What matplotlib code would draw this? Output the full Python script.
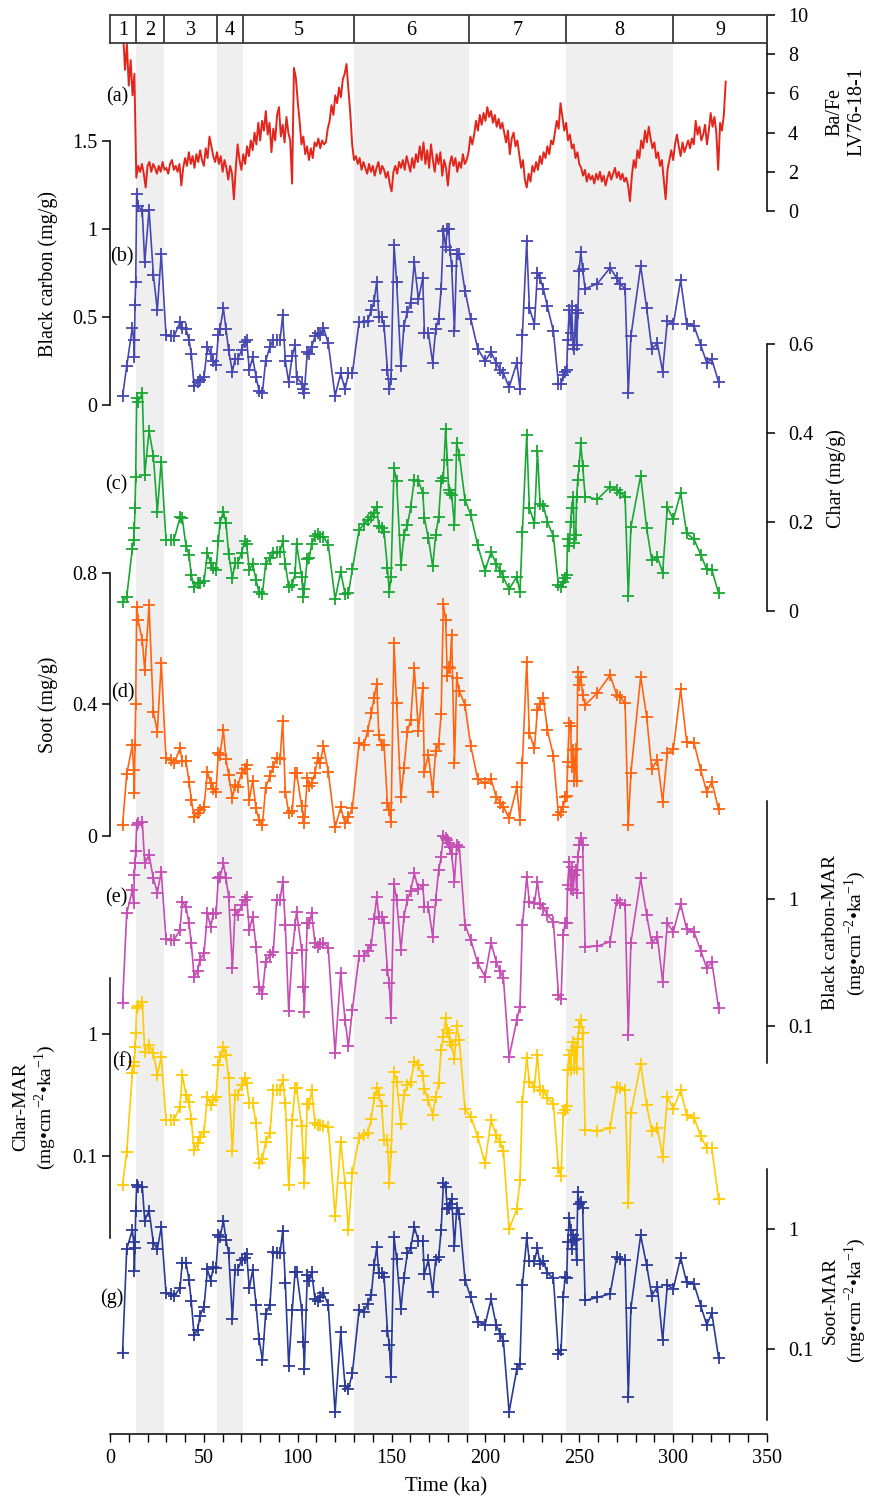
import numpy as np
import matplotlib.pyplot as plt
from matplotlib.ticker import FixedLocator, NullLocator

# === dati ===
ages = [6.7, 8.9, 11.9, 12.6, 13.0, 13.3, 13.7, 14.2, 14.9, 17.2,
        18.5, 20.8, 23.1, 25.2, 27.3, 29.8, 32.3, 34.1, 37.3, 38.5,
        40.5, 42.1, 43.3, 44.8, 46.7, 47.9, 50.1, 51.9, 53.6, 55.1,
        56.5, 57.7, 58.6, 60.4, 61.8, 63.2, 65.2, 66.6, 68.0, 70.1,
        71.7, 72.8, 74.2, 76.0, 77.8, 79.4, 81.2, 82.9, 85.2, 87.0,
        88.8, 90.6, 92.0, 93.4, 95.2, 97.1, 98.6, 99.4, 102.1, 103.0,
        103.5, 105.1, 106.2, 107.4, 109.2, 110.6, 111.9, 113.7, 116.3, 119.9,
        122.9, 125.2, 127.0, 129.1, 132.7, 135.3, 137.3, 139.2, 140.7, 142.1,
        143.2, 144.7, 146.0, 147.8, 148.8, 149.7, 151.3, 152.7, 155.0, 156.6,
        158.4, 160.2, 162.1, 164.3, 166.6, 167.5, 169.6, 171.9, 173.5, 175.1,
        176.4, 177.6, 178.8, 179.7, 180.4, 181.1, 182.0, 183.5, 184.7, 186.1,
        189.1, 192.2, 195.9, 199.8, 203.0, 205.7, 207.8, 209.6, 212.6, 216.7,
        218.4, 219.7, 222.0, 223.4, 226.1, 227.7, 229.1, 230.9, 233.0, 236.2,
        238.9, 240.3, 241.5, 242.4, 243.3, 243.8, 244.7, 245.4, 245.9, 246.8,
        247.3, 248.1, 248.6, 249.2, 249.9, 250.8, 251.8, 253.1, 259.7, 266.4,
        270.0, 271.7, 274.4, 276.1, 277.5, 282.7, 285.9, 288.6, 291.6, 294.4,
        296.9, 300.1, 304.0, 307.2, 311.1, 314.7, 317.9, 320.6, 324.2]

black_carbon = [0.05, 0.22, 0.44, 0.37, 0.27, 0.57, 0.70, 1.20, 1.13, 1.10,
                0.81, 1.11, 0.74, 0.54, 0.86, 0.40, 0.39, 0.39, 0.47, 0.44,
                0.43, 0.37, 0.29, 0.11, 0.13, 0.14, 0.16, 0.33, 0.29, 0.25,
                0.23, 0.40, 0.43, 0.55, 0.43, 0.31, 0.19, 0.26, 0.26, 0.31,
                0.36, 0.37, 0.20, 0.27, 0.16, 0.08, 0.07, 0.25, 0.33, 0.37,
                0.37, 0.37, 0.51, 0.25, 0.13, 0.28, 0.34, 0.16, 0.12, 0.09,
                0.07, 0.30, 0.29, 0.33, 0.39, 0.41, 0.40, 0.44, 0.35, 0.05,
                0.18, 0.09, 0.18, 0.18, 0.47, 0.47, 0.48, 0.54, 0.59, 0.70,
                0.50, 0.50, 0.45, 0.20, 0.09, 0.15, 0.91, 0.70, 0.22, 0.45,
                0.53, 0.58, 0.81, 0.60, 0.72, 0.41, 0.41, 0.24, 0.43, 0.49,
                0.66, 0.99, 0.90, 1.00, 1.00, 0.88, 0.79, 0.42, 0.86, 0.86,
                0.65, 0.49, 0.32, 0.25, 0.30, 0.24, 0.20, 0.18, 0.10, 0.24,
                0.09, 0.40, 0.93, 0.55, 0.46, 0.75, 0.72, 0.66, 0.56, 0.42,
                0.12, 0.12, 0.17, 0.19, 0.20, 0.37, 0.54, 0.41, 0.56, 0.34,
                0.32, 0.54, 0.34, 0.52, 0.76, 0.87, 0.77, 0.66, 0.69, 0.78,
                0.72, 0.69, 0.66, 0.07, 0.39, 0.79, 0.55, 0.32, 0.35, 0.19,
                0.48, 0.46, 0.71, 0.46, 0.45, 0.34, 0.24, 0.26, 0.13]

char = [0.020, 0.031, 0.14, 0.16, 0.186, 0.231, 0.302, 0.48, 0.47, 0.49,
        0.306, 0.405, 0.349, 0.223, 0.336, 0.16, 0.16, 0.16, 0.21, 0.208,
        0.145, 0.126, 0.08, 0.054, 0.062, 0.063, 0.066, 0.13, 0.107, 0.096,
        0.092, 0.156, 0.198, 0.223, 0.197, 0.128, 0.073, 0.107, 0.107, 0.131,
        0.156, 0.15, 0.092, 0.105, 0.069, 0.041, 0.038, 0.105, 0.118, 0.13,
        0.133, 0.133, 0.156, 0.105, 0.054, 0.058, 0.084, 0.15, 0.077, 0.031,
        0.05, 0.116, 0.118, 0.15, 0.168, 0.172, 0.167, 0.167, 0.148, 0.026,
        0.088, 0.038, 0.039, 0.093, 0.182, 0.195, 0.204, 0.212, 0.22, 0.233,
        0.19, 0.186, 0.178, 0.096, 0.043, 0.077, 0.322, 0.291, 0.102, 0.171,
        0.193, 0.233, 0.295, 0.292, 0.265, 0.208, 0.163, 0.10, 0.171, 0.212,
        0.291, 0.30, 0.41, 0.34, 0.272, 0.265, 0.26, 0.193, 0.377, 0.35,
        0.25, 0.216, 0.147, 0.09, 0.133, 0.105, 0.09, 0.075, 0.048, 0.077,
        0.041, 0.178, 0.396, 0.231, 0.197, 0.36, 0.24, 0.236, 0.20, 0.168,
        0.058, 0.054, 0.065, 0.073, 0.081, 0.161, 0.145, 0.20, 0.231, 0.257,
        0.152, 0.171, 0.257, 0.295, 0.326, 0.377, 0.327, 0.257, 0.251, 0.279,
        0.272, 0.265, 0.257, 0.032, 0.188, 0.304, 0.186, 0.114, 0.121, 0.086,
        0.233, 0.206, 0.265, 0.174, 0.161, 0.126, 0.093, 0.092, 0.04]

soot = [0.033, 0.187, 0.276, 0.20, 0.129, 0.276, 0.401, 0.697, 0.657, 0.596,
        0.504, 0.702, 0.377, 0.317, 0.525, 0.236, 0.231, 0.22, 0.266, 0.226,
        0.226, 0.164, 0.11, 0.058, 0.068, 0.078, 0.088, 0.195, 0.16, 0.141,
        0.134, 0.251, 0.246, 0.322, 0.232, 0.185, 0.114, 0.154, 0.149, 0.192,
        0.202, 0.215, 0.109, 0.168, 0.083, 0.048, 0.033, 0.146, 0.182, 0.21,
        0.236, 0.233, 0.35, 0.134, 0.068, 0.075, 0.19, 0.19, 0.09, 0.058,
        0.038, 0.175, 0.152, 0.16, 0.19, 0.236, 0.22, 0.273, 0.195, 0.025,
        0.086, 0.038, 0.058, 0.083, 0.281, 0.276, 0.32, 0.372, 0.42, 0.462,
        0.306, 0.276, 0.276, 0.099, 0.078, 0.041, 0.586, 0.403, 0.119, 0.205,
        0.317, 0.352, 0.512, 0.32, 0.449, 0.195, 0.246, 0.134, 0.259, 0.279,
        0.37, 0.705, 0.657, 0.486, 0.514, 0.512, 0.611, 0.222, 0.479, 0.44,
        0.398, 0.273, 0.172, 0.16, 0.172, 0.119, 0.10, 0.088, 0.053, 0.147,
        0.048, 0.22, 0.53, 0.312, 0.266, 0.382, 0.40, 0.418, 0.322, 0.244,
        0.063, 0.073, 0.088, 0.117, 0.12, 0.225, 0.342, 0.334, 0.21, 0.261,
        0.168, 0.263, 0.168, 0.499, 0.459, 0.484, 0.428, 0.398, 0.435, 0.489,
        0.428, 0.423, 0.403, 0.033, 0.192, 0.484, 0.362, 0.202, 0.231, 0.104,
        0.251, 0.263, 0.446, 0.286, 0.283, 0.20, 0.134, 0.164, 0.08]

bc_mar = [0.151, 0.774, 1.18, 0.93, 1.55, 1.92, 2.42, 3.86, 3.98, 4.1,
          1.92, 2.24, 1.46, 1.13, 1.65, 0.49, 0.477, 0.477, 0.573, 0.96,
          0.865, 0.647, 0.45, 0.245, 0.273, 0.332, 0.374, 0.774, 0.608, 0.765,
          0.774, 1.46, 1.49, 1.92, 1.46, 1.05, 0.285, 0.824, 0.752, 0.902,
          0.988, 1.04, 0.573, 0.73, 0.423, 0.204, 0.179, 0.322, 0.363, 0.386,
          0.988, 0.988, 1.38, 0.627, 0.132, 0.374, 0.627, 0.8, 0.398, 0.204,
          0.13, 0.655, 0.647, 0.774, 0.449, 0.423, 0.443, 0.455, 0.41, 0.061,
          0.263, 0.111, 0.069, 0.134, 0.357, 0.357, 0.394, 0.436, 0.7, 1.05,
          0.73, 0.73, 0.647, 0.277, 0.217, 0.115, 1.32, 0.988, 0.398, 0.73,
          0.988, 1.17, 1.6, 1.2, 1.29, 0.875, 0.87, 0.507, 0.988, 1.7,
          2.14, 3.17, 3.02, 2.94, 2.8, 2.6, 2.29, 1.38, 2.69, 2.6,
          0.627, 0.477, 0.313, 0.245, 0.455, 0.322, 0.27, 0.238, 0.0566, 0.111,
          0.142, 0.627, 1.5, 0.96, 0.93, 1.38, 0.92, 0.86, 0.75, 0.667,
          0.176, 0.163, 0.522, 0.647, 0.655, 1.29, 1.98, 1.21, 1.8, 1.18,
          1.55, 1.7, 1.12, 2.14, 2.69, 3.03, 2.69, 0.423, 0.426, 0.463,
          0.988, 0.93, 0.902, 0.085, 0.455, 1.46, 0.752, 0.449, 0.507, 0.224,
          0.647, 0.554, 0.92, 0.58, 0.554, 0.394, 0.285, 0.322, 0.138]

char_mar = [0.058, 0.107, 0.478, 0.596, 0.55, 0.791, 1.02, 1.63, 1.69, 1.85,
            0.721, 0.817, 0.698, 0.463, 0.647, 0.198, 0.198, 0.198, 0.254, 0.463,
            0.317, 0.279, 0.2, 0.112, 0.127, 0.144, 0.158, 0.307, 0.263, 0.288,
            0.307, 0.56, 0.655, 0.791, 0.676, 0.435, 0.109, 0.317, 0.317, 0.383,
            0.435, 0.40, 0.271, 0.271, 0.185, 0.087, 0.094, 0.131, 0.154, 0.348,
            0.348, 0.348, 0.421, 0.271, 0.058, 0.198, 0.36, 0.36, 0.176, 0.096,
            0.06, 0.267, 0.267, 0.348, 0.188, 0.18, 0.18, 0.176, 0.174, 0.032,
            0.131, 0.06, 0.0247, 0.072, 0.14, 0.149, 0.155, 0.2, 0.3, 0.36,
            0.317, 0.258, 0.135, 0.135, 0.06, 0.107, 0.493, 0.408, 0.183, 0.317,
            0.383, 0.408, 0.596, 0.56, 0.454, 0.353, 0.288, 0.217, 0.307, 0.395,
            0.743, 0.957, 1.35, 1.08, 1.02, 0.87, 0.817, 0.623, 1.17, 0.9,
            0.242, 0.21, 0.144, 0.087, 0.198, 0.149, 0.13, 0.109, 0.025, 0.0365,
            0.0635, 0.279, 0.634, 0.408, 0.37, 0.676, 0.348, 0.344, 0.3, 0.267,
            0.079, 0.068, 0.224, 0.24, 0.258, 0.509, 0.68, 0.509, 0.743, 0.87,
            0.53, 0.791, 0.52, 0.908, 1.15, 1.31, 1.02, 0.163, 0.161, 0.169,
            0.37, 0.36, 0.348, 0.041, 0.224, 0.57, 0.26, 0.161, 0.169, 0.099,
            0.307, 0.245, 0.348, 0.217, 0.207, 0.146, 0.116, 0.116, 0.044]

soot_mar = [0.0937, 0.681, 0.986, 0.789, 0.452, 0.694, 1.43, 2.34, 2.27, 2.27,
            1.18, 1.43, 0.774, 0.681, 1.04, 0.296, 0.289, 0.278, 0.322, 0.527,
            0.527, 0.378, 0.25, 0.132, 0.145, 0.19, 0.227, 0.464, 0.373, 0.482,
            0.473, 0.897, 0.858, 1.18, 0.815, 0.638, 0.178, 0.458, 0.458, 0.555,
            0.573, 0.622, 0.322, 0.458, 0.234, 0.121, 0.0815, 0.197, 0.234, 0.651,
            0.631, 0.631, 0.975, 0.359, 0.0726, 0.213, 0.444, 0.444, 0.213, 0.114,
            0.068, 0.416, 0.373, 0.444, 0.261, 0.25, 0.275, 0.293, 0.234, 0.0297,
            0.138, 0.0494, 0.0464, 0.063, 0.213, 0.206, 0.24, 0.284, 0.5, 0.707,
            0.43, 0.43, 0.403, 0.143, 0.109, 0.0592, 0.868, 0.562, 0.215, 0.391,
            0.631, 0.694, 1.05, 0.8, 0.8, 0.424, 0.555, 0.302, 0.555, 0.583,
            0.986, 2.41, 2.27, 1.47, 1.51, 1.63, 1.77, 0.73, 1.5, 1.33,
            0.38, 0.27, 0.17, 0.16, 0.26, 0.16, 0.135, 0.116, 0.03, 0.068,
            0.076, 0.345, 0.85, 0.54, 0.54, 0.70, 0.51, 0.54, 0.43, 0.39,
            0.092, 0.099, 0.27, 0.40, 0.39, 0.78, 1.25, 0.99, 0.68, 0.9,
            0.81, 0.83, 0.55, 2.05, 1.62, 1.69, 1.5, 0.255, 0.27, 0.29,
            0.59, 0.57, 0.55, 0.04, 0.22, 0.89, 0.5, 0.28, 0.33, 0.12,
            0.34, 0.32, 0.58, 0.36, 0.35, 0.23, 0.16, 0.2, 0.085]

# Ba/Fe (LV76-18-1), un valore per ka da 7 a 328 ka
bafe = [9.0, 7.2, 8.5, 6.4, 7.7, 5.9, 7.0, 1.7, 2.3, 2.0,
        2.4, 1.9, 1.2, 2.3, 2.5, 2.0, 2.4, 2.2, 1.9, 2.3,
        2.0, 2.5, 2.1, 2.2, 1.9, 2.4, 2.6, 2.1, 2.3, 2.0,
        2.4, 1.3, 2.2, 2.7, 2.3, 3.0, 2.4, 2.8, 2.2, 2.9,
        2.5, 3.1, 2.6, 2.3, 3.2, 2.7, 3.8, 3.3, 2.8, 2.5,
        3.0, 2.4, 2.8, 2.0, 2.6, 2.2, 1.6, 2.3, 1.9, 0.6,
        2.2, 3.4, 2.6, 2.1, 2.9, 2.4, 3.3, 2.8, 3.6, 3.1,
        4.0, 3.4, 4.5, 3.6, 4.6, 4.1, 5.1, 3.9, 4.5, 3.0,
        4.2, 3.6, 4.9, 5.3, 3.8, 4.4, 3.5, 4.8, 4.0, 3.6,
        1.4, 7.3, 6.8, 5.6, 4.6, 3.4, 3.8, 2.9, 3.3, 2.6,
        3.2, 2.7, 3.5, 3.3, 3.7, 3.2, 3.6, 3.4, 3.5, 4.2,
        4.6, 5.4, 4.9, 5.9, 5.5, 6.3, 5.8, 6.7, 7.0, 7.5,
        6.2, 5.0, 3.4, 2.6, 2.8, 2.4, 2.7, 2.1, 2.5, 2.2,
        1.9, 2.4, 2.0, 2.3, 1.8, 2.2, 2.5, 1.9, 2.3, 2.1,
        1.7, 2.0, 1.4, 1.0, 2.0, 2.3, 1.9, 2.5, 2.2, 2.6,
        2.1, 2.8, 2.4, 2.0, 2.7, 2.2, 2.9, 2.5, 3.3, 2.6,
        3.5, 2.4, 3.1, 2.2, 3.4, 2.6, 2.0, 2.9, 2.4, 3.0,
        1.8, 2.6, 2.2, 1.3, 2.4, 2.8, 2.3, 2.7, 2.0, 2.5,
        2.2, 2.9, 2.4, 2.6, 3.0, 3.8, 3.4, 3.9, 4.6, 4.1,
        4.9, 4.4, 5.0, 4.6, 5.3, 4.8, 5.1, 4.5, 4.9, 4.3,
        4.7, 4.2, 4.5, 4.0, 3.5, 4.1, 2.9, 3.7, 4.0, 3.3,
        3.6, 2.9, 2.2, 2.6, 1.6, 1.2, 1.9, 1.5, 2.3, 2.0,
        2.5, 2.1, 2.8, 2.4, 3.0, 2.7, 3.3, 2.9, 3.6, 3.4,
        4.0, 4.6, 4.2, 5.5, 4.8, 4.1, 4.5, 3.6, 3.9, 3.2,
        3.4, 2.7, 3.0, 2.4, 2.2, 1.8, 2.1, 1.5, 1.9, 1.6,
        1.8, 1.4, 1.9, 1.6, 2.0, 1.5, 1.8, 1.3, 1.7, 2.0,
        1.6, 1.9, 2.2, 1.7, 2.0, 1.6, 1.9, 1.5, 1.7, 1.3,
        0.5, 1.8, 2.6, 2.2, 3.1, 2.7, 3.6, 3.2, 4.1, 3.5,
        4.3, 3.7, 3.2, 3.5, 2.7, 3.0, 2.3, 2.6, 1.6, 0.6,
        2.1, 2.6, 3.1, 2.6, 3.4, 3.9, 3.3, 2.8, 3.5, 3.0,
        3.3, 3.6, 3.2, 3.7, 3.4, 4.6, 3.9, 4.3, 3.6, 3.9,
        4.4, 3.4, 4.1, 5.0, 4.3, 4.8, 4.0, 2.1, 4.5, 4.1,
        4.9, 6.6]
bafe_age = np.arange(7, 7 + len(bafe))

# stadi isotopici marini (limiti in ka)
mis_bounds = [0, 14, 29, 57, 71, 130, 191, 243, 300, 350]
mis_labels = ['1', '2', '3', '4', '5', '6', '7', '8', '9']
shaded = [(14, 29), (57, 71), (130, 191), (243, 300)]

# === figura (coordinate in pixel dell'originale 871x1497) ===
W, H = 871, 1497
X0, X1 = 110, 767

plt.rcParams['font.family'] = ['Liberation Serif', 'DejaVu Serif']
plt.rcParams['mathtext.fontset'] = 'custom'
plt.rcParams['mathtext.rm'] = 'Liberation Serif'
fig = plt.figure(figsize=(W / 100, H / 100), dpi=100)


def box(ytop, ybot):
    return [X0 / W, 1 - ybot / H, (X1 - X0) / W, (ybot - ytop) / H]


def ftext(x, y, s, **kw):
    fig.text(x / W, 1 - y / H, s, **kw)


LBL = 14.5
TCK = 14.5

# asse di base: bande grigie + asse del tempo
base = fig.add_axes(box(15, 1434))
base.set_xlim(0, 350)
base.set_ylim(0, 1)
for a, b in shaded:
    base.axvspan(a, b, color='#efefef', lw=0)
for s in ['top', 'left', 'right']:
    base.spines[s].set_visible(False)
base.spines['bottom'].set_linewidth(1.1)
base.set_yticks([])
base.set_xticks(range(0, 351, 50))
base.xaxis.set_minor_locator(FixedLocator(range(0, 351, 10)))
base.tick_params(axis='x', which='both', direction='out', length=6, width=1.0,
                 labelsize=TCK, pad=5)
ftext(446, 1487, 'Time (ka)', fontsize=15, ha='center', va='center')


def panel(ytop, ybot, side, ylim, ticks, labels, log=False):
    ax = fig.add_axes(box(ytop, ybot))
    ax.patch.set_visible(False)
    ax.set_xlim(0, 350)
    if log:
        ax.set_yscale('log')
    ax.set_ylim(*ylim)
    ax.xaxis.set_visible(False)
    for s in ax.spines.values():
        s.set_visible(False)
    ax.spines[side].set_visible(True)
    ax.spines[side].set_linewidth(1.1)
    ax.yaxis.set_ticks_position(side)
    ax.set_yticks(ticks, labels)
    ax.yaxis.set_minor_locator(NullLocator())
    ax.tick_params(axis='y', direction='out', length=6, width=1.1,
                   labelsize=TCK, pad=3 if side == 'left' else 9)
    return ax


def marks(ax, y, color):
    ax.plot(ages, y, '-', color=color, lw=1.2, marker='+', ms=8.5, mew=1.3,
            clip_on=False)


# (a) Ba/Fe
ax_a = panel(15, 211, 'right', (0, 10), [0, 2, 4, 6, 8, 10],
             ['0', '2', '4', '6', '8', '10'])
ax_a.plot(bafe_age, bafe, color='#e3261c', lw=1.4)
ftext(846, 112, 'Ba/Fe\nLV76-18-1', rotation=90, fontsize=LBL,
      ha='center', va='center', linespacing=1.2)

# (b) black carbon
ax_b = panel(141, 405, 'left', (0, 1.5), [0, 0.5, 1, 1.5],
             ['0', '0.5', '1', '1.5'])
marks(ax_b, black_carbon, '#4747b3')
ftext(48, 274, 'Black carbon (mg/g)', rotation=90, fontsize=LBL,
      ha='center', va='center')

# (c) char
ax_c = panel(344.3, 610.7, 'right', (0, 0.6), [0, 0.2, 0.4, 0.6],
             ['0', '0.2', '0.4', '0.6'])
marks(ax_c, char, '#1aa834')
ftext(836, 479, 'Char (mg/g)', rotation=90, fontsize=LBL,
      ha='center', va='center')

# (d) soot
ax_d = panel(572.9, 835.7, 'left', (0, 0.8), [0, 0.4, 0.8],
             ['0', '0.4', '0.8'])
marks(ax_d, soot, '#ff6510')
ftext(48, 705, 'Soot (mg/g)', rotation=90, fontsize=LBL,
      ha='center', va='center')

unit = '(mg\u2022cm$^{-2}$\u2022ka$^{-1}$)'

# (e) black carbon MAR
ax_e = panel(800.7, 1063, 'right', (0.051, 6.0), [0.1, 1], ['0.1', '1'],
             log=True)
marks(ax_e, bc_mar, '#c64db4')
ftext(845, 933, 'Black carbon-MAR\n' + unit, rotation=90, fontsize=14,
      ha='center', va='center', linespacing=1.15)

# (f) char MAR
ax_f = panel(978.3, 1238, 'left', (0.0212, 2.88), [0.1, 1], ['0.1', '1'],
             log=True)
marks(ax_f, char_mar, '#ffcb05')
ftext(35, 1107, 'Char-MAR\n' + unit, rotation=90, fontsize=14,
      ha='center', va='center', linespacing=1.15)

# (g) soot MAR
ax_g = panel(1169.3, 1420, 'right', (0.0257, 3.16), [0.1, 1], ['0.1', '1'],
             log=True)
marks(ax_g, soot_mar, '#2b3a98')
ftext(845, 1300, 'Soot-MAR\n' + unit, rotation=90, fontsize=14,
      ha='center', va='center', linespacing=1.15)

# etichette dei pannelli
for lab, x, y in [('(a)', 117, 97), ('(b)', 122, 257), ('(c)', 116, 485),
                  ('(d)', 123, 693), ('(e)', 116, 898), ('(f)', 122, 1062),
                  ('(g)', 112, 1298)]:
    ftext(x, y, lab, fontsize=LBL, ha='center', va='center')

# riquadro degli stadi MIS
top = fig.add_axes(box(15, 43))
top.set_facecolor('white')
top.set_xlim(0, 350)
top.set_ylim(0, 1)
top.set_xticks([])
top.set_yticks([])
for s in top.spines.values():
    s.set_linewidth(1.3)
    s.set_color('#3a3a3a')
for xb in mis_bounds[1:-1]:
    top.axvline(xb, color='#3a3a3a', lw=1.3)
for i, lab in enumerate(mis_labels):
    top.text((mis_bounds[i] + mis_bounds[i + 1]) / 2, 0.45, lab,
             fontsize=TCK, ha='center', va='center')

fig.savefig('out.png', dpi=100)
